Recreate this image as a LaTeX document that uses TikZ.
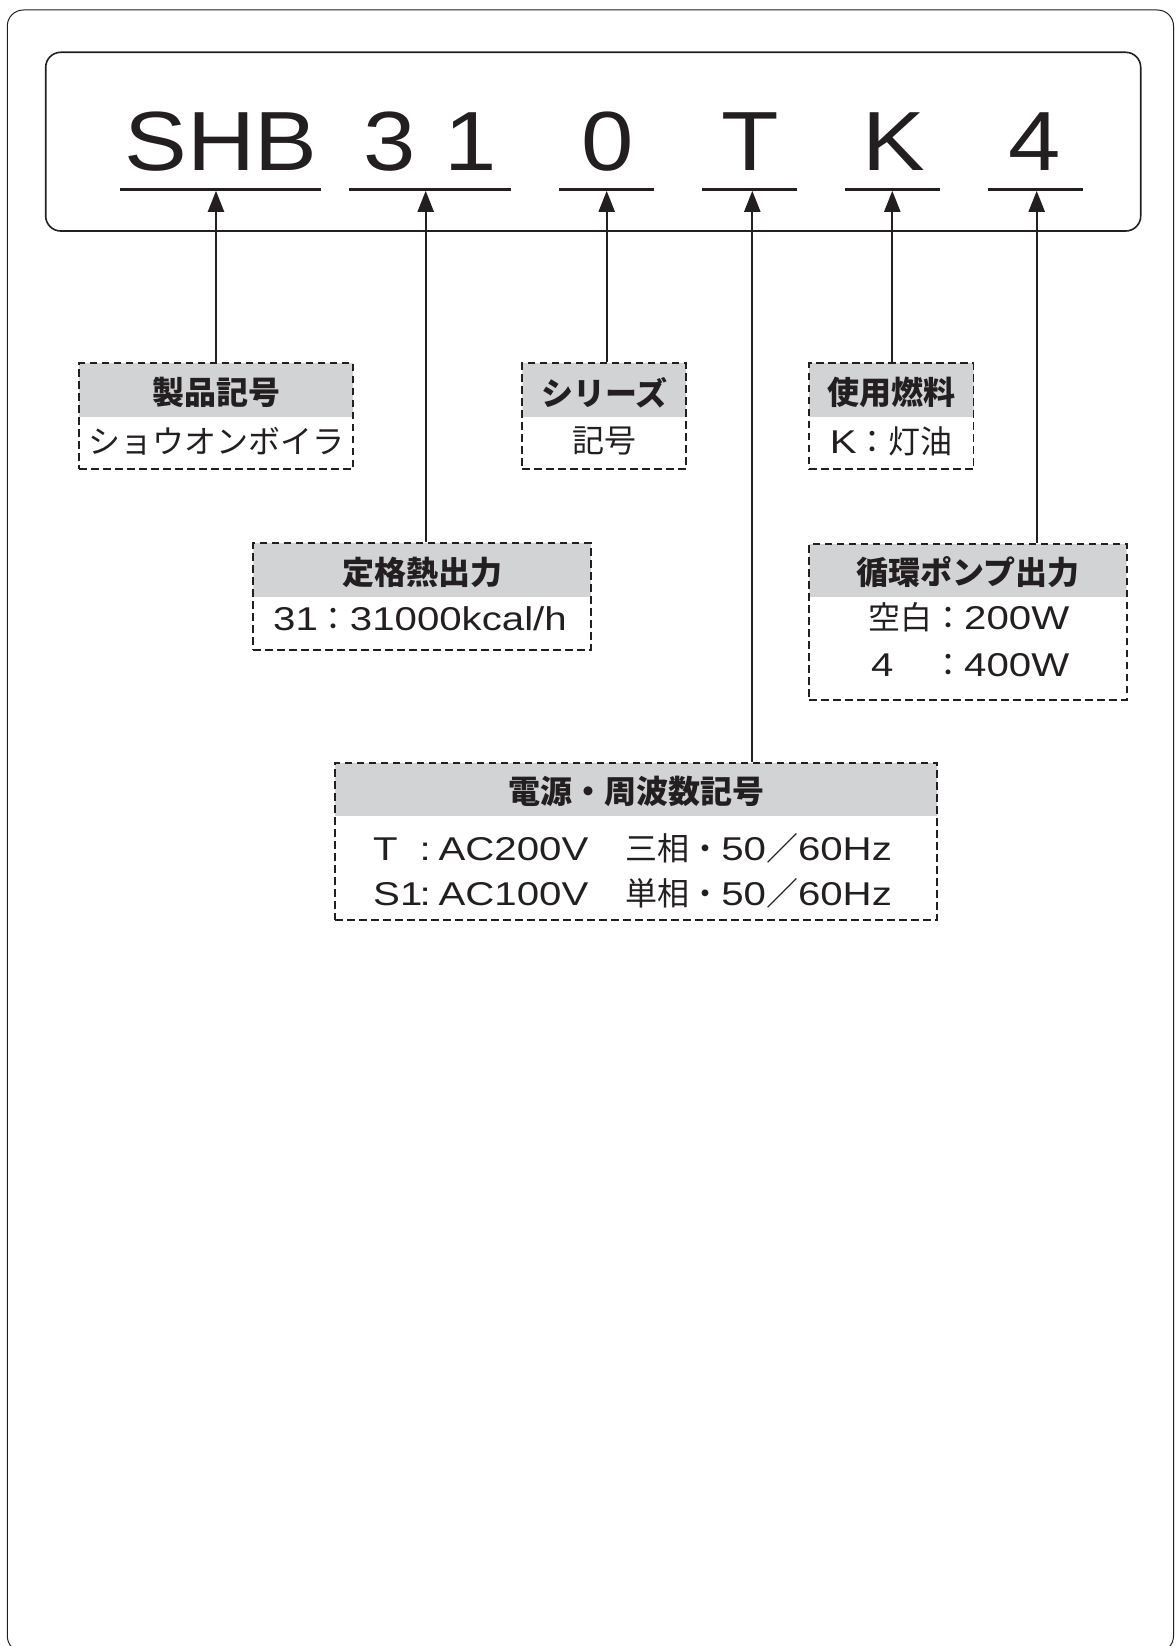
\documentclass[tikz,border=0pt]{standalone}
\usepackage{fontspec}
\setmainfont{Noto Sans CJK JP}
\newfontfamily\latf[Scale=1.03,FakeStretch=1.22]{Liberation Sans}
\newfontfamily\titlef[FakeStretch=1.12]{Liberation Sans}
\usetikzlibrary{arrows.meta}
\definecolor{ink}{HTML}{231F20}
\definecolor{bandgray}{HTML}{D1D3D4}
\newcommand\latx[1]{{\latf #1}}
\begin{document}
\begin{tikzpicture}[x=1pt,y=-1pt,
  txt/.style={inner sep=0pt, text=ink, font=\fontsize{32}{36}\selectfont},
  hdr/.style={inner sep=0pt, text=ink, font=\fontsize{32}{36}\selectfont\bfseries},
  titletxt/.style={inner sep=0pt, text=ink, font=\titlef\fontsize{84}{84}\selectfont, anchor=base},
  uline/.style={draw=ink, line width=3pt},
  arr/.style={draw=ink, line width=2.1pt, -{Triangle[length=21pt,width=16pt]}},
  infobox/.style={draw=ink, line width=1.8pt, dash pattern=on 7.5pt off 4.5pt,
    inner sep=0pt, minimum height=105.7pt,
    path picture={\fill[bandgray] (path picture bounding box.north west) rectangle ([yshift=-53.3pt]path picture bounding box.north east);}},
]
\useasboundingbox (0,0) rectangle (1175,1646);
% frames
\draw[ink, line width=1pt, rounded corners=16pt] (7.3,10) rectangle (1173.5,1652);
\draw[ink, line width=1.6pt, rounded corners=15pt] (45.7,52.3) rectangle (1140.7,231);
% title code
\node[titletxt] (tSHB) at (221,170) {SHB};
\node[titletxt, anchor=base west] (t31) at (363,170) {3\hspace{29pt}1};
\node[titletxt] (t0) at (607.5,170) {0};
\node[titletxt] (tT) at (750,170) {T};
\node[titletxt] (tK) at (894,170) {K};
\node[titletxt] (t4) at (1035,170) {4};
% underlines
\draw[uline] (120,189.3) -- (321,189.3);
\draw[uline] (349,189.3) -- (511,189.3);
\draw[uline] (559.3,189.3) -- (654.3,189.3);
\draw[uline] (702.3,189.3) -- (797.3,189.3);
\draw[uline] (845,189.3) -- (940,189.3);
\draw[uline] (987.7,189.3) -- (1083.3,189.3);
\coordinate (u1) at (216,190.8);
\coordinate (u2) at (425.7,190.8);
\coordinate (u3) at (606.7,190.8);
\coordinate (u4) at (752.3,190.8);
\coordinate (u5) at (892.3,190.8);
\coordinate (u6) at (1036.7,190.8);
% boxes
\node[infobox, minimum width=274.3pt] (b1) at (216.2,416.2) {};
\node[infobox, minimum width=163.7pt] (b2) at (604.2,416.2) {};
\node[infobox, minimum width=164.5pt] (b3) at (891.3,416.2) {};
\node[infobox, minimum width=337.7pt, minimum height=106.7pt] (b4) at (422.2,596.7) {};
\node[infobox, minimum width=317.4pt, minimum height=156pt] (b5) at (968,622) {};
\node[infobox, minimum width=602pt, minimum height=157.3pt] (b6) at (636,841.3) {};
% box texts
\node[hdr] (b1h) at (216.2,392.5) {製品記号};
\node[txt] (b1t) at (216.2,441) {ショウオンボイラ};
\node[hdr] (b2h) at (604.2,392.5) {シリーズ};
\node[txt] (b2t) at (604.2,441) {記号};
\node[hdr] (b3h) at (891.3,392.5) {使用燃料};
\node[txt] (b3t) at (891.3,441) {\latx{K}：灯油};
\node[hdr] (b4h) at (422.2,572) {定格熱出力};
\node[txt] (b4t) at (420,619) {\latx{31}：\latx{31000kcal/h}};
\node[hdr] (b5h) at (968,572.5) {循環ポンプ出力};
\node[txt, anchor=west] (b5a) at (868,617) {\makebox[64pt][l]{空白}：\latx{200W}};
\node[txt, anchor=west] (b5b) at (868,665) {\makebox[64pt][l]{\hspace{3pt}\latx{4}}：\latx{400W}};
\node[hdr] (b6h) at (636,791) {電源・周波数記号};
\node[txt, anchor=west] (b6a) at (373,848) {\rlap{\latx{T}}\hspace{46.4pt}\rlap{\latx{:}}\hspace{19pt}\rlap{\latx{AC200V}}\hspace{186.7pt}三相・\latx{50}／\latx{60Hz}};
\node[txt, anchor=west] (b6b) at (373,893) {\rlap{\latx{S1}}\hspace{46.4pt}\rlap{\latx{:}}\hspace{19pt}\rlap{\latx{AC100V}}\hspace{186.7pt}単相・\latx{50}／\latx{60Hz}};
% connectors
\draw[arr] (b1.north -| u1) -- (u1);
\draw[arr] (b4.north -| u2) -- (u2);
\draw[arr] (b2.north -| u3) -- (u3);
\draw[arr] (b6.north -| u4) -- (u4);
\draw[arr] (b3.north -| u5) -- (u5);
\draw[arr] (b5.north -| u6) -- (u6);
\end{tikzpicture}
\end{document}
